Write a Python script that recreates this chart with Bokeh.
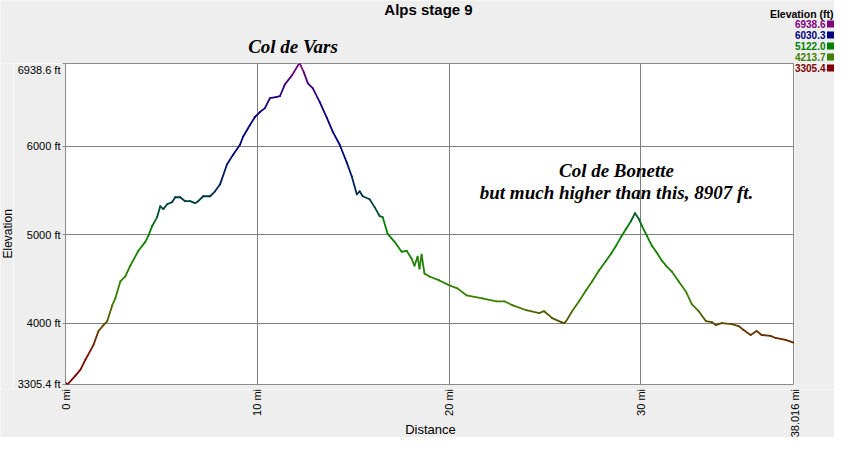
import math
import numpy as np
from bokeh.plotting import figure
from bokeh.layouts import column, row
from bokeh.models import Range1d, FixedTicker, Label, ColumnDataSource
from bokeh.core.properties import value
from bokeh.transform import linear_cmap
from bokeh.embed import file_html
from bokeh.resources import INLINE

# ---------------- data ----------------
title_text = "Alps stage 9"
x_label = "Distance"
y_label = "Elevation"

dist_mi = [0.00, 0.10, 0.52, 0.78, 1.04, 1.46, 1.72, 1.98, 2.18, 2.44,
           2.60, 2.86, 3.12, 3.38, 3.80, 4.16, 4.32, 4.52, 4.78, 4.94,
           5.10, 5.30, 5.56, 5.72, 5.98, 6.24, 6.50, 6.76, 6.92, 7.18,
           7.54, 7.80, 8.06, 8.42, 8.74, 9.10, 9.26, 9.62, 9.88, 10.14,
           10.40, 10.66, 10.97, 11.18, 11.44, 11.81, 12.12, 12.22, 12.43, 12.64,
           12.90, 13.26, 13.63, 13.94, 14.30, 14.67, 14.93, 15.19, 15.34, 15.50,
           15.86, 16.12, 16.38, 16.54, 16.80, 17.16, 17.53, 17.79, 18.05, 18.20,
           18.36, 18.46, 18.57, 18.72, 18.98, 19.50, 20.02, 20.44, 20.91, 21.74,
           22.47, 22.88, 23.30, 24.03, 24.70, 24.96, 25.38, 25.85, 26.00, 26.11,
           26.42, 26.78, 27.15, 27.46, 27.82, 28.19, 28.45, 28.71, 28.97, 29.23,
           29.49, 29.70, 29.90, 30.06, 30.32, 30.58, 30.84, 31.10, 31.36, 31.62,
           31.98, 32.35, 32.66, 33.02, 33.39, 33.70, 33.91, 34.22, 34.74, 35.10,
           35.36, 35.73, 36.04, 36.30, 36.77, 37.03, 37.55, 38.016]
elev_ft = [3328, 3305.4, 3406, 3474, 3586, 3754, 3911, 3978, 4023, 4203,
           4281, 4472, 4528, 4651, 4819, 4920, 4987, 5100, 5200, 5324,
           5290, 5346, 5369, 5425, 5425, 5380, 5380, 5358, 5380, 5436,
           5436, 5492, 5571, 5795, 5907, 6019, 6109, 6243, 6333, 6389,
           6434, 6546, 6557, 6568, 6703, 6804, 6916, 6938.6, 6838, 6714,
           6658, 6501, 6322, 6165, 6019, 5817, 5660, 5458, 5492, 5436,
           5402, 5313, 5212, 5200, 5010, 4920, 4808, 4819, 4729, 4651,
           4752, 4617, 4774, 4561, 4528, 4483, 4427, 4393, 4315, 4281,
           4247, 4247, 4203, 4146, 4113, 4135, 4057, 4012, 4001, 4023,
           4135, 4247, 4371, 4472, 4595, 4707, 4786, 4875, 4976, 5066,
           5156, 5245, 5178, 5100, 4987, 4875, 4797, 4707, 4640, 4584,
           4472, 4359, 4214, 4135, 4023, 4012, 3978, 4001, 3989, 3967,
           3922, 3866, 3911, 3866, 3855, 3832, 3810, 3776]

x_ticks = [0, 10, 20, 30, 38.016]
x_tick_labels = ["0 mi", "10 mi", "20 mi", "30 mi", "38.016 mi"]
y_ticks = [3305.4, 4000, 5000, 6000, 6938.6]
y_tick_labels = ["3305.4 ft", "4000 ft", "5000 ft", "6000 ft", "6938.6 ft"]

legend_title = "Elevation (ft)"
legend_labels = ["6938.6", "6030.3", "5122.0", "4213.7", "3305.4"]
legend_colors = ["#800080", "#000080", "#008000", "#408000", "#800000"]

note_vars = "Col de Vars"
note_bonette_1 = "Col de Bonette"
note_bonette_2 = "but much higher than this, 8907 ft."

# ---------------- layout geometry (canvas pixels) ----------------
x_lo, x_hi = 0, 38.016
y_lo, y_hi = 3305.4, 6938.6
W, H = 834, 437
FL, FR, FT, FB = 65, 794, 63, 384     # plot frame edges
LEFT_W = 13                           # band holding the y axis title
RIGHT_W = W - FR                      # band right of the frame
MID_H = (FB - FT) + 5                 # frame + small border
BOT_H = H - FT - MID_H                # band holding x tick labels
BG = "#eeeeee"

def X(px):
    return x_lo + (px - FL) / (FR - FL) * (x_hi - x_lo)

def Y(py):
    return y_lo + (FB - py) / (FB - FT) * (y_hi - y_lo)

def band(width, height, x_range=None):
    f = figure(width=width, height=height, output_backend="svg",
               toolbar_location=None,
               x_range=x_range if x_range is not None else Range1d(0, width),
               y_range=Range1d(0, height),
               x_axis_type=None, y_axis_type=None, min_border=0)
    f.outline_line_color = None
    f.background_fill_color = BG
    f.border_fill_color = BG
    return f

def add_label(f, x, y, text, size, font="Liberation Sans", style="normal",
              align="center", color="black", angle=0):
    f.add_layout(Label(x=x, y=y, text=text, text_font=font,
                       text_font_size=size, text_font_style=style,
                       text_align=align, text_baseline="middle",
                       text_color=color, angle=angle))

# ---------------- main plot ----------------
p = figure(width=W - LEFT_W - RIGHT_W, height=MID_H, output_backend="svg",
           toolbar_location=None, x_axis_location=None,
           x_range=Range1d(x_lo, x_hi), y_range=Range1d(y_lo, y_hi),
           min_border_left=FL - LEFT_W, min_border_right=0, min_border_top=0,
           min_border_bottom=MID_H - (FB - FT))
p.background_fill_color = "white"
p.border_fill_color = BG
p.outline_line_color = "#8c8c8c"

p.yaxis.axis_line_color = "#8c8c8c"
p.yaxis.major_tick_line_color = "#8c8c8c"
p.yaxis.major_tick_out = 3
p.yaxis.major_tick_in = 0
p.yaxis.minor_tick_line_color = None
p.yaxis.major_label_text_font = "Liberation Sans"
p.yaxis.major_label_text_font_size = "11px"
p.yaxis.major_label_text_color = "black"
p.yaxis.major_label_standoff = 2
p.yaxis.ticker = FixedTicker(ticks=y_ticks)
p.yaxis.major_label_overrides = {t: l for t, l in zip(y_ticks, y_tick_labels)}

p.xgrid.ticker = FixedTicker(ticks=x_ticks)
p.xgrid.grid_line_color = "#808080"
p.ygrid.grid_line_color = "#808080"

anchors = legend_colors[::-1]
def hex2rgb(h):
    return np.array([int(h[i:i + 2], 16) for i in (1, 3, 5)], dtype=float)
anchor_rgb = [hex2rgb(c) for c in anchors]
bias = [2.0, 1.0, 0.5, 2.2]   # per-interval easing of the colour blend
palette = []
for k in range(256):
    t = k / 255 * (len(anchors) - 1)
    i = min(int(t), len(anchors) - 2)
    f = (t - i) ** bias[i]
    c = anchor_rgb[i] * (1 - f) + anchor_rgb[i + 1] * f
    palette.append("#%02x%02x%02x" % tuple(int(round(v)) for v in c))

xs = np.array(dist_mi, dtype=float)
ys = np.array(elev_ft, dtype=float)
src = ColumnDataSource(dict(x0=xs[:-1], x1=xs[1:], y0=ys[:-1], y1=ys[1:],
                            ym=(ys[:-1] + ys[1:]) / 2))
p.segment(x0="x0", y0="y0", x1="x1", y1="y1", source=src, line_width=1.8,
          line_cap="round",
          line_color=linear_cmap("ym", palette, y_lo, y_hi))

add_label(p, X(616), Y(170), note_bonette_1, "19px", font="Liberation Serif",
          style="bold italic")
add_label(p, X(616), Y(192), note_bonette_2, "19px", font="Liberation Serif",
          style="bold italic")

# ---------------- header band ----------------
top = band(W, FT)
add_label(top, 428, FT - 9, title_text, "15px", style="bold")
add_label(top, 292.5, FT - 46, note_vars, "19px", font="Liberation Serif",
          style="bold italic")
add_label(top, 833, FT - 13, legend_title, "10.5px", style="bold",
          align="right")

# ---------------- side bands ----------------
left = band(LEFT_W, MID_H)
add_label(left, 7, FT + MID_H - 236, y_label, "12px", angle=math.pi / 2)

right = band(RIGHT_W, MID_H)

for i, (lab, col) in enumerate(zip(legend_labels, legend_colors)):
    py = 23.5 + i * 11
    if py <= FT - 6:
        tgt, ox, oy = top, 0, FT
    else:
        tgt, ox, oy = right, FR, FT + MID_H
    add_label(tgt, 825 - ox, oy - py, lab, "10px", style="bold",
              align="right", color=col)
    tgt.rect(x=830 - ox, y=oy - py, width=7, height=7, fill_color=col,
             line_color=None)

# ---------------- bottom band: x tick labels + axis title ----------------
bottom = band(W, BOT_H, x_range=Range1d(X(0), X(W)))
bottom.text(x=x_ticks, y=BOT_H + 0.5, text=x_tick_labels, angle=math.pi / 2,
            text_align="right", text_baseline="middle",
            text_font=value("Liberation Sans"), text_font_size="11px",
            text_color="black")
add_label(bottom, X(430), BOT_H - (429 - (FT + MID_H)), x_label, "13px")

layout = column(top, row(left, p, right), bottom)
open("out.html", "w").write(file_html(layout, INLINE))
